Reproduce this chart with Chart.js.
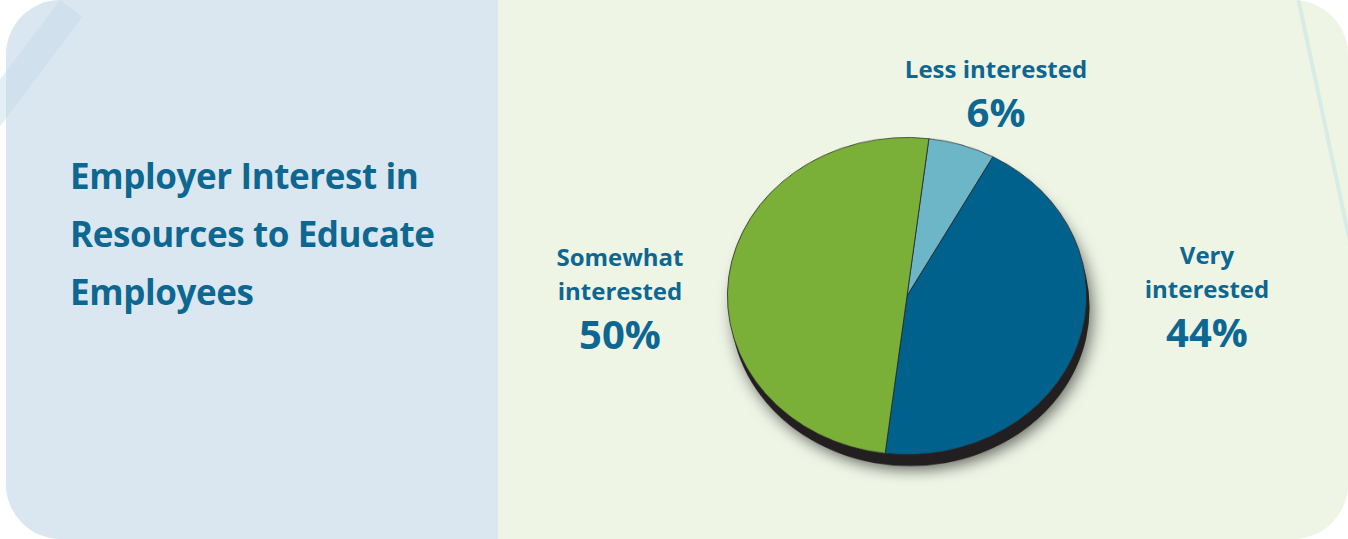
<!DOCTYPE html>
<html>
<head>
<meta charset="utf-8">
<script src="https://cdn.jsdelivr.net/npm/chart.js@4/dist/chart.umd.min.js"></script>
<style>
  html, body { margin: 0; padding: 0; background: #ffffff; }
  body { width: 1348px; height: 539px; position: relative; overflow: hidden; font-family: "Open Sans", sans-serif; }
  .panel { position: absolute; left: 6px; top: 0; width: 1342px; height: 539px; border-radius: 55px; overflow: hidden; background: #eef5e5; }
  .left { position: absolute; left: 0; top: 0; width: 492px; height: 100%; background: #dae7f0; }
  .band { position: absolute; left: 60px; top: 0; width: 28px; height: 200px; background: rgba(195, 218, 232, 0.45); transform: rotate(37deg); transform-origin: top left; }
  .streak { position: absolute; left: 1290px; top: -2px; width: 4px; height: 300px; background: rgba(214, 234, 230, 0.9); transform: rotate(-12deg); transform-origin: top left; }
  .title { position: absolute; left: 70px; top: 147px; color: #0d6791; font-weight: 700; font-size: 35px; line-height: 58px; letter-spacing: -0.4px; }
  .lbl { position: absolute; color: #0d6791; font-weight: 700; text-align: center; transform: translateX(-50%); white-space: nowrap; }
  .lbl .name { font-size: 24px; line-height: 34px; }
  .lbl .pct { font-size: 40px; line-height: 52px; }
  #wrap { position: absolute; left: 687px; top: 76px; width: 440px; height: 440px; transform: scaleY(0.883); transform-origin: center center; }
</style>
</head>
<body>
<div class="panel">
  <div class="left"></div>
  <div class="streak"></div>
</div>
<div class="band"></div>
<div class="title">Employer Interest in<br>Resources to Educate<br>Employees</div>
<div id="labels"></div>
<div id="wrap"><canvas id="pieChart"></canvas></div>
<script>
// #### Data
const categories = ['Less interested', 'Very interested', 'Somewhat interested'];
const labelLines = [['Less interested'], ['Very', 'interested'], ['Somewhat', 'interested']];
const shares = [6, 44, 50];
const sliceColors = ['#6db6c7', '#00628c', '#7aaf38'];

// label anchor points (page px), one per category
const labelX = [996, 1207, 620];
const labelY = [52, 238, 240];

// #### Labels
const labelHost = document.getElementById('labels');
categories.forEach((cat, i) => {
    const div = document.createElement('div');
    div.className = 'lbl';
    div.style.left = labelX[i] + 'px';
    div.style.top = labelY[i] + 'px';
    div.innerHTML = labelLines[i].map(t => `<div class="name">${t}</div>`).join('') +
        `<div class="pct">${shares[i]}%</div>`;
    labelHost.appendChild(div);
});

// #### Pie shadow (the dark rim under the tilted pie)
const rimPlugin = {
    id: 'rim',
    beforeDatasetsDraw(chart) {
        const arc = chart.getDatasetMeta(0).data[0];
        if (!arc) return;
        const ctx = chart.ctx;
        ctx.save();
        ctx.shadowColor = 'rgba(0,0,0,0.55)';
        ctx.shadowBlur = 16;
        ctx.shadowOffsetX = 3;
        ctx.shadowOffsetY = 5;
        ctx.fillStyle = '#231f20';
        ctx.beginPath();
        ctx.arc(arc.x + 3, arc.y + 13, arc.outerRadius, 0, Math.PI * 2);
        ctx.fill();
        ctx.restore();
    }
};

// #### Chart
new Chart(document.getElementById('pieChart').getContext('2d'), {
    type: 'pie',
    data: {
        labels: categories,
        datasets: [{
            data: shares,
            backgroundColor: sliceColors,
            borderColor: '#2a2a2a',
            borderWidth: 0.8
        }]
    },
    options: {
        responsive: true,
        maintainAspectRatio: false,
        animation: false,
        rotation: 7,
        layout: { padding: 40 },
        plugins: {
            legend: { display: false },
            tooltip: { enabled: false }
        }
    },
    plugins: [rimPlugin]
});
</script>
</body>
</html>
